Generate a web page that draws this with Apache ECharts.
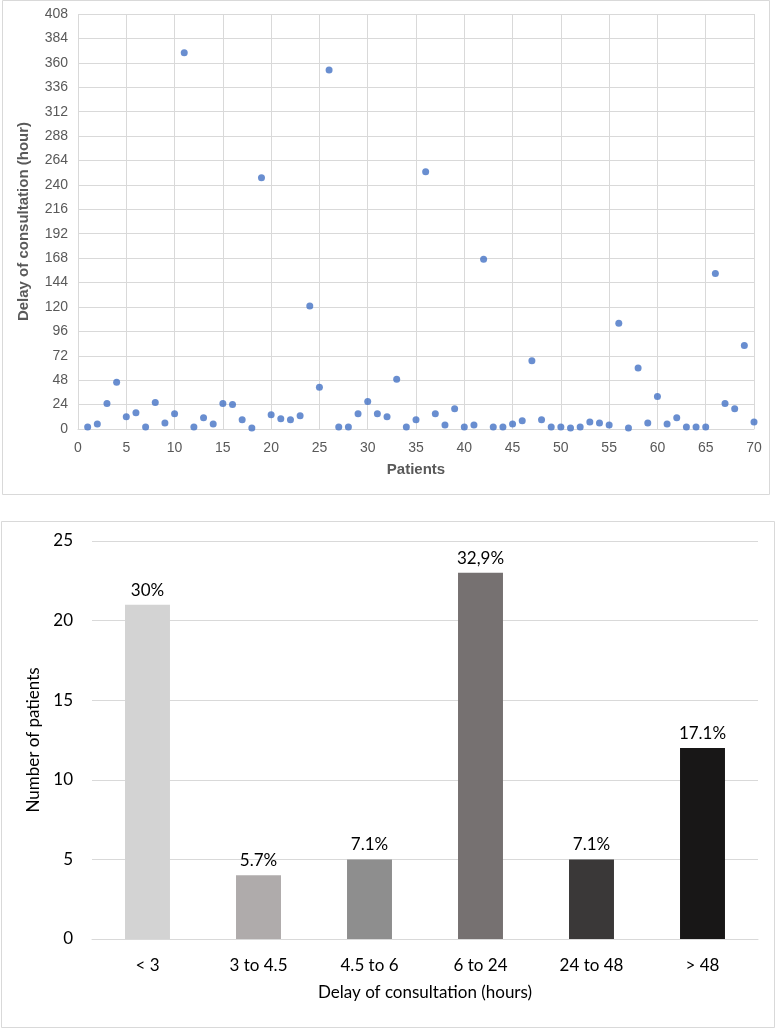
<!DOCTYPE html>
<html>
<head>
<meta charset="utf-8">
<script src="https://cdn.jsdelivr.net/npm/echarts@6/dist/echarts.min.js"></script>
<style>
html,body{margin:0;padding:0;background:#fff;}
#c{width:777px;height:1030px;}
</style>
</head>
<body>
<div id="c"></div>
<script>
// Scatter: delay of consultation (hours) per patient
const patients = Array.from({length: 70}, (_, i) => i + 1);
const delayHours = [
  2, 5, 25, 46, 12, 16, 2, 26, 6, 15,
  370, 2, 11, 5, 25, 24, 9, 1, 247, 14,
  10, 9, 13, 121, 41, 353, 2, 2, 15, 27,
  15, 12, 49, 2, 9, 253, 15, 4, 20, 2,
  4, 167, 2, 2, 5, 8, 67, 9, 2, 2,
  1, 2, 7, 6, 4, 104, 1, 60, 6, 32,
  5, 11, 2, 2, 2, 153, 25, 20, 82, 7
];
const scatterYTicks = {min: 0, max: 408, interval: 24};
const scatterXTicks = {min: 0, max: 70, interval: 5};

// Bar chart: distribution
const barCategories = ['< 3', '3 to 4.5', '4.5 to 6', '6 to 24', '24 to 48', '> 48'];
const barCounts = [21, 4, 5, 23, 5, 12];
const barLabels = ['30%', '5.7%', '7.1%', '32,9%', '7.1%', '17.1%'];
const barColors = ['#d3d3d3', '#afabab', '#8e8e8e', '#767171', '#3a3838', '#181717'];

const chart = echarts.init(document.getElementById('c'));
const gridColor = '#d9d9d9';
const calibri = 'Lato, "Open Sans", sans-serif';
const helv = '"Liberation Sans", Arial, sans-serif';

chart.setOption({
  animation: false,
  backgroundColor: '#fff',
  graphic: [
    {type: 'rect', shape: {x: 2.5, y: 0.5, width: 767, height: 494}, style: {fill: 'none', stroke: '#d9d9d9', lineWidth: 1}},
    {type: 'rect', shape: {x: 1.5, y: 521.5, width: 773, height: 506}, style: {fill: 'none', stroke: '#d9d9d9', lineWidth: 1}}
  ],
  grid: [
    {left: 78, right: 23, top: 14, height: 415},
    {left: 92, right: 19, top: 541, height: 398}
  ],
  xAxis: [
    {
      type: 'value', gridIndex: 0,
      min: scatterXTicks.min, max: scatterXTicks.max, interval: scatterXTicks.interval,
      name: 'Patients', nameLocation: 'middle', nameGap: 33,
      nameTextStyle: {fontFamily: helv, fontSize: 15, fontWeight: 'bold', color: '#595959'},
      axisLine: {show: true, lineStyle: {color: gridColor}},
      axisTick: {show: false},
      axisLabel: {fontFamily: helv, fontSize: 14, color: '#595959', margin: 12},
      splitLine: {show: true, lineStyle: {color: gridColor}}
    },
    {
      type: 'category', gridIndex: 1, data: barCategories,
      name: 'Delay of consultation (hours)', nameLocation: 'middle', nameGap: 45,
      nameTextStyle: {fontFamily: calibri, fontSize: 17, color: '#000'},
      axisLine: {show: true, lineStyle: {color: gridColor}},
      axisTick: {show: false},
      axisLabel: {fontFamily: calibri, fontSize: 17, color: '#000', margin: 18}
    }
  ],
  yAxis: [
    {
      type: 'value', gridIndex: 0,
      min: scatterYTicks.min, max: scatterYTicks.max, interval: scatterYTicks.interval,
      name: 'Delay of consultation (hour)', nameLocation: 'middle', nameGap: 47,
      nameTextStyle: {fontFamily: helv, fontSize: 15, fontWeight: 'bold', color: '#595959'},
      axisLine: {show: false}, axisTick: {show: false},
      axisLabel: {fontFamily: helv, fontSize: 14, color: '#595959', margin: 10},
      splitLine: {show: true, lineStyle: {color: gridColor}}
    },
    {
      type: 'value', gridIndex: 1, min: 0, max: 25, interval: 5,
      name: 'Number of patients', nameLocation: 'middle', nameGap: 44,
      nameTextStyle: {fontFamily: calibri, fontSize: 17, color: '#000'},
      axisLine: {show: false}, axisTick: {show: false},
      axisLabel: {fontFamily: calibri, fontSize: 17, color: '#000', margin: 19},
      splitLine: {show: true, lineStyle: {color: gridColor}}
    }
  ],
  series: [
    {
      type: 'scatter', xAxisIndex: 0, yAxisIndex: 0,
      symbolSize: 7,
      itemStyle: {color: '#4472c4'},
      data: patients.map((p, i) => [p, delayHours[i]])
    },
    {
      type: 'bar', xAxisIndex: 1, yAxisIndex: 1,
      barWidth: '40.5%',
      data: barCounts.map((v, i) => ({value: v, itemStyle: {color: barColors[i]}})),
      label: {
        show: true, position: 'top', distance: 6,
        fontFamily: calibri, fontSize: 17, color: '#000',
        formatter: p => barLabels[p.dataIndex]
      }
    }
  ]
});
</script>
</body>
</html>
